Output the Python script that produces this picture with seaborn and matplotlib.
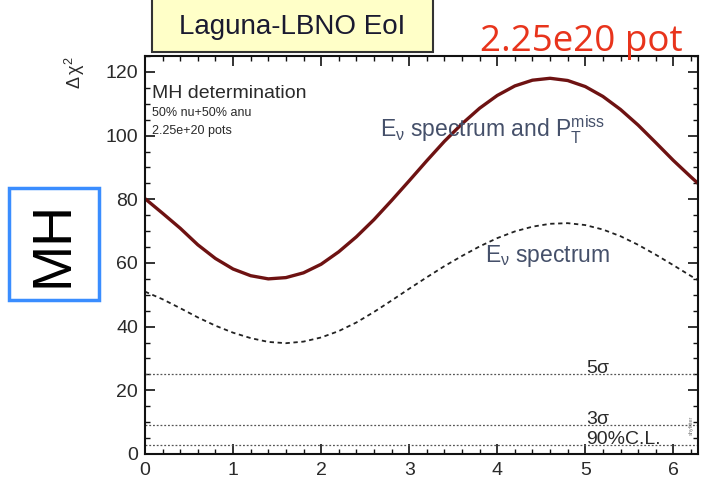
import numpy as np
import pandas as pd
import matplotlib
matplotlib.use("Agg")
import matplotlib.pyplot as plt
import seaborn as sns
from matplotlib.patches import Rectangle
from matplotlib.ticker import MultipleLocator

# ---- data ----
delta_cp = [0.0, 0.2, 0.4, 0.6, 0.8, 1.0, 1.2, 1.4, 1.6, 1.8, 2.0, 2.2, 2.4, 2.6, 2.8, 3.0,
            3.2, 3.4, 3.6, 3.8, 4.0, 4.2, 4.4, 4.6, 4.8, 5.0, 5.2, 5.4, 5.6, 5.8, 6.0, 6.2, 6.28]
chi2_spec_pt = [80.2, 75.6, 70.9, 65.7, 61.4, 58.1, 56.0, 55.0, 55.4, 56.9, 59.6, 63.5, 68.2,
                73.6, 79.6, 85.8, 92.1, 98.2, 103.7, 108.6, 112.6, 115.6, 117.4, 118.0, 117.3,
                115.4, 112.3, 108.2, 103.3, 97.8, 92.2, 87.0, 85.0]
chi2_spec = [51.0, 48.6, 45.8, 42.9, 40.3, 38.1, 36.4, 35.2, 34.8, 35.3, 36.6, 38.6, 41.3,
             44.6, 48.2, 51.9, 55.5, 59.0, 62.2, 65.2, 67.8, 69.9, 71.4, 72.3, 72.5,
             71.9, 70.5, 68.4, 65.7, 62.6, 59.3, 55.9, 54.6]
cl_levels = [25.0, 9.0, 2.71]
cl_labels = ["5σ", "3σ", "90%C.L."]
x_ticks = [0, 1, 2, 3, 4, 5, 6]
y_ticks = [0, 20, 40, 60, 80, 100, 120]

df = pd.DataFrame({
    "delta": delta_cp * 2,
    "chi2": chi2_spec_pt + chi2_spec,
    "series": ["spec_pt"] * len(delta_cp) + ["spec"] * len(delta_cp),
})

sns.set_theme(style="white")
plt.rcParams["font.family"] = ["Liberation Sans", "DejaVu Sans"]
plt.rcParams["mathtext.fontset"] = "custom"
plt.rcParams["mathtext.rm"] = "Liberation Sans"
plt.rcParams["mathtext.it"] = "Liberation Sans:italic"
plt.rcParams["mathtext.default"] = "regular"

fig = plt.figure(figsize=(7.21, 4.83), dpi=100)
fig.patch.set_facecolor("white")
ax = fig.add_axes([145 / 721, 1 - 454 / 483, 553 / 721, 398 / 483])
ax.set_facecolor("white")

sns.lineplot(data=df[df.series == "spec_pt"], x="delta", y="chi2", ax=ax,
             color="#6e1212", lw=2.4, legend=False)
sns.lineplot(data=df[df.series == "spec"], x="delta", y="chi2", ax=ax,
             color="#222222", lw=1.3, legend=False)
ax.lines[-1].set_linestyle((0, (2.4, 2.0)))

for lvl, lab in zip(cl_levels, cl_labels):
    ax.axhline(lvl, color="#555555", lw=0.9, ls=(0, (1.5, 1.5)))
    ax.text(5.01, lvl + 0.3, lab, fontsize=14, color="#2a2a2a", va="baseline", ha="left")

ax.set_xlim(0, 6.28)
ax.set_ylim(0, 125)
ax.set_xticks(x_ticks)
ax.set_yticks(y_ticks)
ax.xaxis.set_minor_locator(MultipleLocator(0.2))
ax.yaxis.set_minor_locator(MultipleLocator(5))
ax.tick_params(which="both", direction="in", top=True, right=True, bottom=True, left=True,
               colors="#111111", labelcolor="#2a2a2a", labelsize=14)
ax.tick_params(which="major", length=7, width=1.2)
ax.tick_params(which="minor", length=3.5, width=1.0)
ax.tick_params(axis="y", pad=5)
ax.tick_params(axis="x", pad=6)
ax.set_xlabel("")
ax.set_ylabel("")
for s in ax.spines.values():
    s.set_color("#111111")
    s.set_linewidth(1.5)

# in-plot texts
ax.text(0.08, 113.3, "MH determination", fontsize=14, color="#2a2a2a", va="center", ha="left")
ax.text(0.08, 107.0, "50% nu+50% anu", fontsize=9, color="#2a2a2a", va="center", ha="left")
ax.text(0.08, 101.3, "2.25e+20 pots", fontsize=9, color="#2a2a2a", va="center", ha="left")
ax.text(2.67, 99.5, r"E$_{\nu}$ spectrum and P$_{T}^{miss}$", fontsize=16.5,
        color="#45506a", va="baseline", ha="left")
ax.text(3.86, 60.2, r"E$_{\nu}$ spectrum", fontsize=16.5,
        color="#45506a", va="baseline", ha="left")
ax.text(6.2, 9, "shyfitter", fontsize=4, color="#777777", rotation=90,
        va="center", ha="center")

# y-axis label
fig.text(75 / 721, 1 - 73 / 483, r"$\Delta\,\chi^{2}$", fontsize=13, color="#2a2a2a",
         rotation=90, ha="center", va="center")

# title box
fig.patches.append(Rectangle((152 / 721, 1 - 52 / 483), 281 / 721, 60 / 483,
                             transform=fig.transFigure, facecolor="#ffffc8",
                             edgecolor="#333333", lw=1.5, zorder=1))
fig.text(292 / 721, 1 - 27 / 483, "Laguna-LBNO EoI", fontsize=20, color="#1a1a30",
         ha="center", va="center", zorder=2)

# red pot text
fig.text(480 / 721, 1 - 51 / 483, "2.25e20 pot", fontsize=26.5, color="#e8341c",
         family=["Open Sans", "DejaVu Sans"], ha="left", va="baseline")

# MH box
fig.patches.append(Rectangle((9 / 721, 1 - 300 / 483), 90 / 721, 112 / 483,
                             transform=fig.transFigure, facecolor="white",
                             edgecolor="#3a8dff", lw=2.5))
fig.text(54 / 721, 1 - 244 / 483, "MH", fontsize=40, color="black", rotation=90,
         ha="center", va="center")

fig.savefig("out.png", dpi=100)
